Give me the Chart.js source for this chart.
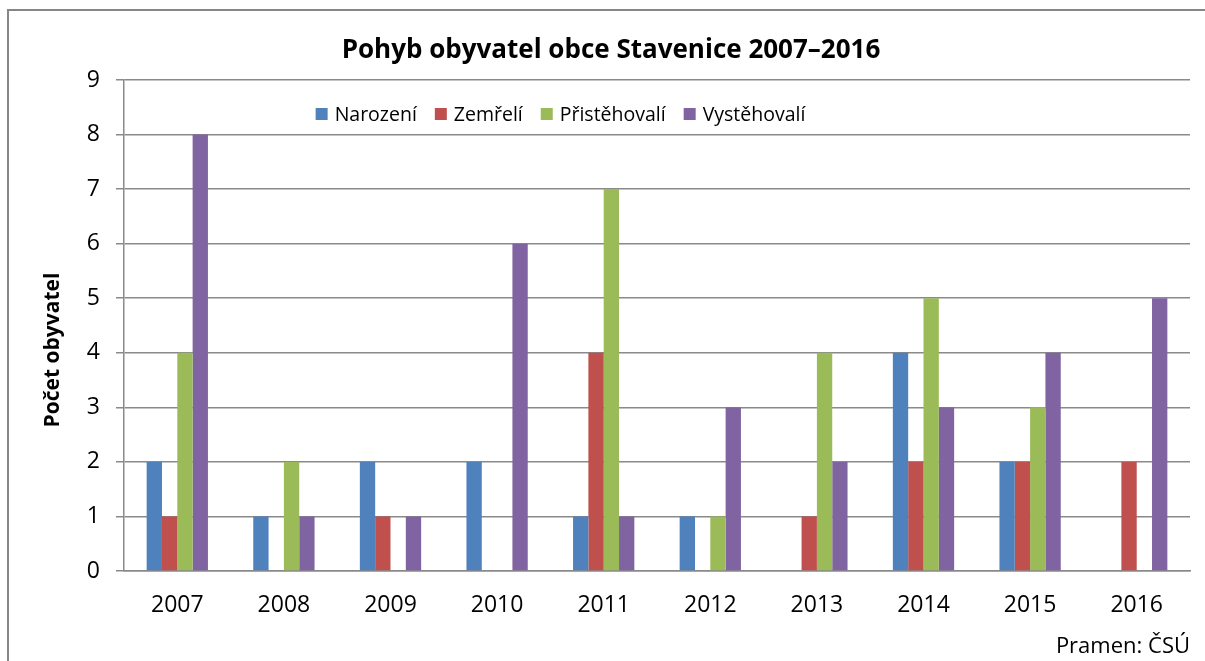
<!DOCTYPE html>
<html>
<head>
<meta charset="utf-8">
<title>Pohyb obyvatel obce Stavenice 2007–2016</title>
<script src="https://cdn.jsdelivr.net/npm/chart.js@4.4.0/dist/chart.umd.min.js"></script>
<style>
  html, body { margin: 0; padding: 0; background: #fff; }
</style>
</head>
<body>
<canvas id="chart" width="1205" height="661"></canvas>
<script>
const years = ['2007', '2008', '2009', '2010', '2011', '2012', '2013', '2014', '2015', '2016'];
const narozeni = [2, 1, 2, 2, 1, 1, 0, 4, 2, 0];
const zemreli = [1, 0, 1, 0, 4, 0, 1, 2, 2, 2];
const pristehovali = [4, 2, 0, 0, 7, 1, 4, 5, 3, 0];
const vystehovali = [8, 1, 1, 6, 1, 3, 2, 3, 4, 5];
const seriesNames = ['Narození', 'Zemřelí', 'Přistěhovalí', 'Vystěhovalí'];
const seriesColors = ['#4F81BD', '#C0504D', '#9BBB59', '#8064A2'];
const yMin = 0, yMax = 9, yStep = 1;

const FONT = '"Open Sans", "DejaVu Sans", sans-serif';
const GRID = '#8a8a8a';

// frame, y axis title, source note and the legend inside the plot area
const extras = {
  id: 'extras',
  beforeDraw(chart) {
    const ctx = chart.ctx;
    ctx.save();
    ctx.strokeStyle = '#868686';
    ctx.lineWidth = 2;
    ctx.strokeRect(8, 10, 1400, 900);
    ctx.restore();
  },
  afterDraw(chart) {
    const ctx = chart.ctx;
    ctx.save();
    // y axis title
    ctx.translate(53, 350);
    ctx.rotate(-Math.PI / 2);
    ctx.font = 'bold 21px ' + FONT;
    ctx.fillStyle = '#000';
    ctx.textAlign = 'center';
    ctx.textBaseline = 'middle';
    ctx.fillText('Počet obyvatel', 0, 0);
    ctx.restore();

    // source note
    ctx.save();
    ctx.font = '22px ' + FONT;
    ctx.fillStyle = '#000';
    ctx.textAlign = 'right';
    ctx.textBaseline = 'alphabetic';
    ctx.fillText('Pramen: ČSÚ', 1190, 653);
    ctx.restore();

    // legend
    ctx.save();
    ctx.font = '19.5px ' + FONT;
    const box = 12, gap = 7, spacing = 18;
    const widths = chart.data.datasets.map(d => ctx.measureText(d.label).width);
    const total = widths.reduce((a, w) => a + box + gap + w, 0) + spacing * (widths.length - 1);
    let x = 560.5 - total / 2;
    chart.data.datasets.forEach((d, i) => {
      ctx.fillStyle = d.backgroundColor;
      ctx.fillRect(x, 108, box, box);
      ctx.fillStyle = '#000';
      ctx.textBaseline = 'alphabetic';
      ctx.fillText(d.label, x + box + gap, 120.5);
      x += box + gap + widths[i] + spacing;
    });
    ctx.restore();
  }
};

const seriesValues = [narozeni, zemreli, pristehovali, vystehovali];

new Chart(document.getElementById('chart'), {
  type: 'bar',
  data: {
    labels: years,
    datasets: seriesValues.map((vals, i) => ({
      label: seriesNames[i],
      data: vals,
      backgroundColor: seriesColors[i],
      borderWidth: 0,
      categoryPercentage: 0.575,
      barPercentage: 1
    }))
  },
  options: {
    responsive: false,
    animation: false,
    layout: { padding: { left: 32, right: 15, top: 0, bottom: 40 } },
    plugins: {
      legend: { display: false },
      tooltip: { enabled: false },
      title: {
        display: true,
        text: 'Pohyb obyvatel obce Stavenice 2007–2016',
        color: '#000',
        font: { family: FONT, size: 26, weight: 'bold' },
        padding: { top: 35, bottom: 13.8 }
      }
    },
    scales: {
      x: {
        afterFit(scale) { scale.height = 50; },
        grid: { display: false, drawTicks: false },
        border: { display: true, color: GRID, width: 1.5 },
        ticks: { color: '#000', font: { family: FONT, size: 23 }, padding: 21, maxRotation: 0 }
      },
      y: {
        min: yMin,
        max: yMax,
        afterFit(scale) { scale.width = 92; },
        grid: { color: GRID, lineWidth: 1.5, tickLength: 8 },
        border: { display: true, color: GRID, width: 1.5 },
        ticks: { stepSize: yStep, color: '#000', font: { family: FONT, size: 23 }, padding: 16 }
      }
    }
  },
  plugins: [extras]
});
</script>
</body>
</html>
